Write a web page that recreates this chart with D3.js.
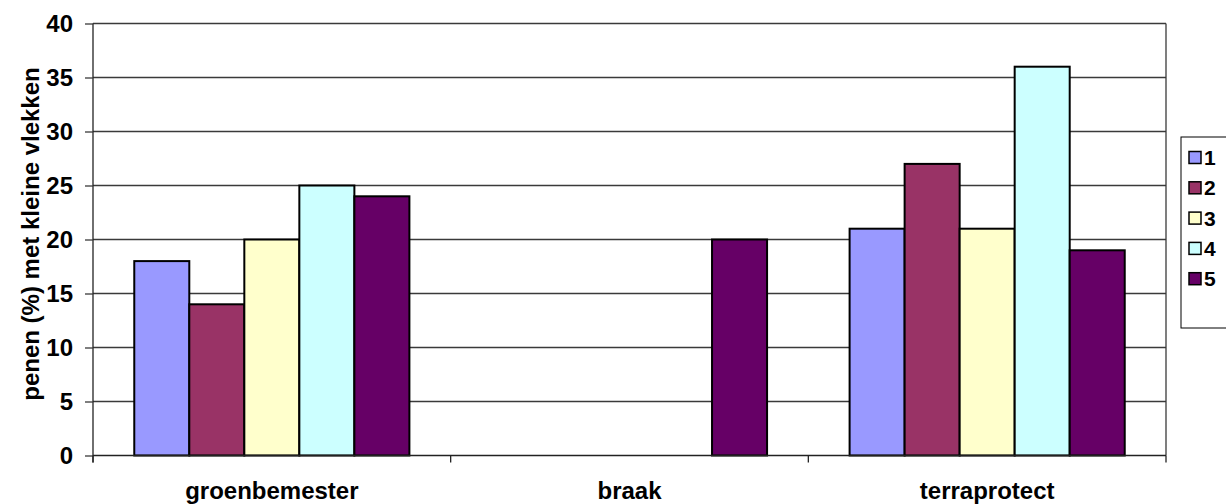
<!DOCTYPE html>
<html>
<head>
<meta charset="utf-8">
<script src="https://cdn.jsdelivr.net/npm/d3@7"></script>
<style>
  html, body { margin: 0; padding: 0; background: #fff; }
  svg text { font-family: "Liberation Sans", Arial, sans-serif; font-weight: bold; fill: #000; }
</style>
</head>
<body>
<svg id="chart" width="1226" height="504"></svg>
<script>
// Categories along the x axis
const categories = ["groenbemester", "braak", "terraprotect"];
// Series names (legend entries)
const seriesNames = ["1", "2", "3", "4", "5"];
// Values per series, one per category
const series1 = [18, 0, 21];
const series2 = [14, 0, 27];
const series3 = [20, 0, 21];
const series4 = [25, 0, 36];
const series5 = [24, 20, 19];
const seriesValues = [series1, series2, series3, series4, series5];
const seriesColors = ["#9999FF", "#993366", "#FFFFCC", "#CCFFFF", "#660066"];
const yTicks = [0, 5, 10, 15, 20, 25, 30, 35, 40];
const yTitle = "penen (%) met kleine vlekken";

const svg = d3.select("#chart");
const plot = { left: 93, right: 1166, top: 23.5, bottom: 455.5 };

const x0 = d3.scaleBand().domain(categories).range([plot.left, plot.right]).paddingInner(0).paddingOuter(0);
// Gap width of 150%: the bar group occupies 5/6.5 of each category
const gapFrac = 1.5 / 6.5;
const x1 = d3.scaleBand().domain(seriesNames)
  .range([x0.bandwidth() * gapFrac / 2, x0.bandwidth() * (1 - gapFrac / 2)])
  .padding(0);
const y = d3.scaleLinear().domain([0, 40]).range([plot.bottom, plot.top]);

// Horizontal gridlines
svg.append("g").selectAll("line").data(yTicks.filter(d => d > 0)).join("line")
  .attr("x1", plot.left).attr("x2", plot.right)
  .attr("y1", d => y(d)).attr("y2", d => y(d))
  .attr("stroke", "#3a3a3a").attr("stroke-width", 1.3);

// Right border of plot area
svg.append("line")
  .attr("x1", plot.right).attr("x2", plot.right)
  .attr("y1", plot.top).attr("y2", plot.bottom)
  .attr("stroke", "#3a3a3a").attr("stroke-width", 1.3);

// Bars
const rows = [];
categories.forEach((c, ci) => {
  seriesNames.forEach((s, si) => {
    const v = seriesValues[si][ci];
    if (v > 0) rows.push({ c, s, v, color: seriesColors[si] });
  });
});
svg.append("g").selectAll("rect").data(rows).join("rect")
  .attr("x", d => x0(d.c) + x1(d.s))
  .attr("width", x1.bandwidth())
  .attr("y", d => y(d.v))
  .attr("height", d => y(0) - y(d.v))
  .attr("fill", d => d.color)
  .attr("stroke", "#000").attr("stroke-width", 2);

// Y axis
const yAxis = d3.axisLeft(y).tickValues(yTicks).tickSize(8).tickPadding(12).tickFormat(d3.format("d"));
const gy = svg.append("g").attr("transform", `translate(${plot.left},0)`).call(yAxis);
gy.select(".domain").attr("stroke", "#222").attr("stroke-width", 1.3)
  .attr("d", `M0,${plot.top}V${plot.bottom + 7}`);
gy.selectAll(".tick line").attr("stroke", "#3a3a3a").attr("stroke-width", 1.3);
gy.selectAll(".tick text").style("font-size", "24px").attr("dy", "0.35em");

// X axis baseline with category boundary ticks
const gx = svg.append("g");
gx.append("line").attr("x1", plot.left).attr("x2", plot.right)
  .attr("y1", plot.bottom).attr("y2", plot.bottom)
  .attr("stroke", "#222").attr("stroke-width", 1.6);
const boundaries = categories.map(c => x0(c)).concat([plot.right]);
gx.selectAll("line.b").data(boundaries).join("line").attr("class", "b")
  .attr("x1", d => d).attr("x2", d => d)
  .attr("y1", plot.bottom).attr("y2", plot.bottom + 7)
  .attr("stroke", "#222").attr("stroke-width", 1.3);
gx.selectAll("text").data(categories).join("text")
  .attr("x", d => x0(d) + x0.bandwidth() / 2)
  .attr("y", 499)
  .attr("text-anchor", "middle")
  .style("font-size", "24px")
  .text(d => d);

// Y axis title
svg.append("text")
  .attr("transform", "translate(39,234) rotate(-90)")
  .attr("text-anchor", "middle")
  .style("font-size", "24px")
  .text(yTitle);

// Legend
const legend = svg.append("g");
legend.append("rect")
  .attr("x", 1181).attr("y", 137).attr("width", 60).attr("height", 191)
  .attr("fill", "#fff").attr("stroke", "#000").attr("stroke-width", 1);
const items = legend.selectAll("g.item").data(seriesNames).join("g").attr("class", "item")
  .attr("transform", (d, i) => `translate(1189,${157.5 + i * 30.3})`);
items.append("rect")
  .attr("x", 0).attr("y", -6).attr("width", 12).attr("height", 12)
  .attr("fill", (d, i) => seriesColors[i])
  .attr("stroke", "#000").attr("stroke-width", 1.5);
items.append("text")
  .attr("x", 15).attr("y", 0).attr("dy", "0.36em")
  .style("font-size", "21px")
  .text(d => d);
</script>
</body>
</html>
